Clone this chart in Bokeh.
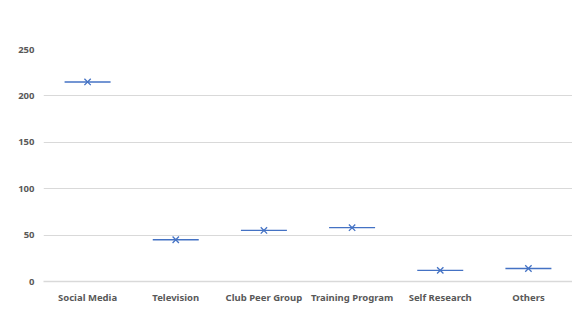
from bokeh.plotting import figure
from bokeh.models import FactorRange, Range1d, FixedTicker, ColumnDataSource
from bokeh.embed import file_html
from bokeh.resources import INLINE

categories = ["Social Media", "Television", "Club Peer Group", "Training Program", "Self Research", "Others"]
values = [215, 45, 55, 58, 12, 14]
y_ticks = [0, 50, 100, 150, 200, 250]

src = ColumnDataSource(dict(cat=categories, val=values))

p = figure(width=572, height=306, output_backend="svg", toolbar_location=None,
           x_range=FactorRange(*categories, range_padding=0), y_range=Range1d(0, 250),
           min_border_left=43, min_border_right=0, min_border_top=49, min_border_bottom=0)
p.outline_line_color = None
p.background_fill_color = "white"

blue = "#4472c4"
p.dash(x="cat", y="val", source=src, size=46, line_color=blue, line_width=1.3)
p.scatter(x="cat", y="val", source=src, marker="x", size=9, line_color=blue, line_width=1.3)

p.yaxis.ticker = FixedTicker(ticks=y_ticks)
p.yaxis.axis_line_color = None
p.yaxis.major_tick_line_color = None
p.yaxis.minor_tick_line_color = None
p.yaxis.major_tick_out = 0
p.yaxis.major_tick_in = 0
p.xaxis.axis_line_color = "#d9d9d9"
p.xaxis.axis_line_width = 1.5
p.xaxis.major_tick_line_color = None
p.xaxis.minor_tick_line_color = None
p.xaxis.major_tick_out = 0
p.xaxis.major_tick_in = 0
for ax in (p.xaxis, p.yaxis):
    ax.major_label_text_font = "Noto Sans"
    ax.major_label_text_font_style = "bold"
    ax.major_label_text_font_size = "9.5px"
    ax.major_label_text_color = "#595959"
p.xaxis.major_label_standoff = 9
p.yaxis.major_label_standoff = 9
p.xgrid.grid_line_color = None
p.ygrid.grid_line_color = "#d9d9d9"
p.ygrid.grid_line_width = 1.2

open("out.html", "w").write(file_html(p, INLINE))
